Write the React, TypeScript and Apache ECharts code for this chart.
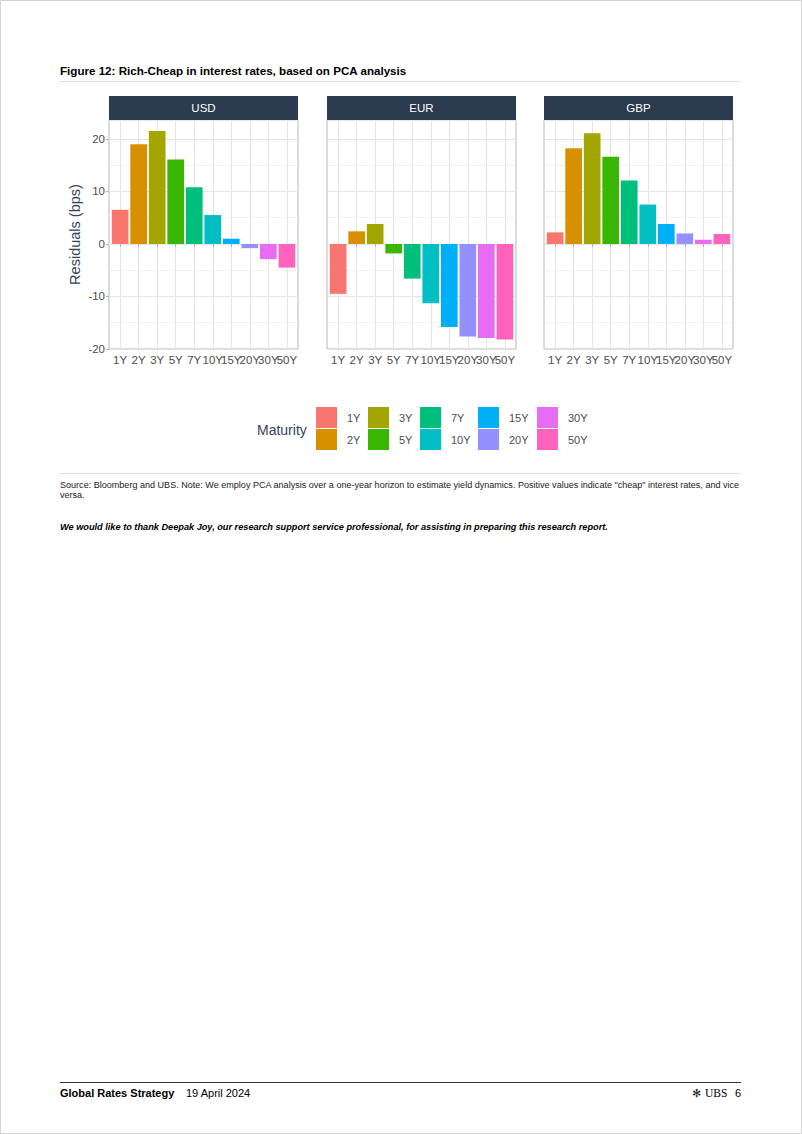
import React, { useEffect, useRef } from 'react';
import * as echarts from 'echarts';

const maturities = ['1Y', '2Y', '3Y', '5Y', '7Y', '10Y', '15Y', '20Y', '30Y', '50Y'];
const currencies = ['USD', 'EUR', 'GBP'];
const usdResiduals = [6.5, 19.0, 21.5, 16.1, 10.8, 5.5, 1.0, -0.8, -2.9, -4.5];
const eurResiduals = [-9.5, 2.4, 3.8, -1.8, -6.6, -11.3, -15.8, -17.6, -17.9, -18.2];
const gbpResiduals = [2.2, 18.2, 21.1, 16.6, 12.1, 7.5, 3.8, 2.0, 0.8, 1.9];
const residualsByCurrency = [usdResiduals, eurResiduals, gbpResiduals];
const maturityColors = ['#F8766D', '#D89000', '#A3A500', '#39B600', '#00BF7D', '#00BFC4', '#00B0F6', '#9590FF', '#E76BF3', '#FF62BC'];

const titleText = 'Figure 12: Rich-Cheap in interest rates, based on PCA analysis';
const sourceLine1 = 'Source: Bloomberg and UBS. Note: We employ PCA analysis over a one-year horizon to estimate yield dynamics. Positive values indicate "cheap" interest rates, and vice';
const sourceLine2 = 'versa.';
const thanksText = 'We would like to thank Deepak Joy, our research support service professional, for assisting in preparing this research report.';

const FONT = '"Liberation Sans", Arial, Helvetica, sans-serif';
const gridLefts = [109, 327, 544];
const gridTop = 120;
const gridWidth = 189;
const gridHeight = 229;
// ggplot-style discrete expansion (0.6 units each side instead of 0.5)
const inset = gridWidth * (0.1 / 10.2);
const legendLefts = [316, 368, 420, 478, 537];
const yMin = -20;
const yMax = 23.6;

export default function App() {
  const ref = useRef<HTMLDivElement>(null);
  useEffect(() => {
    document.body.style.margin = '0';
    const chart = echarts.init(ref.current as HTMLDivElement, null, { renderer: 'svg', width: 802, height: 1134 });

    const panelGrids = gridLefts.map((left) => ({
      left, top: gridTop, width: gridWidth, height: gridHeight,
      show: true, borderColor: '#b8b8b8', borderWidth: 1, backgroundColor: 'transparent',
    }));
    const barGrids = gridLefts.map((left) => ({
      left: left + inset, top: gridTop, width: gridWidth - 2 * inset, height: gridHeight, show: false,
    }));

    const panelXAxes = gridLefts.map((_, i) => ({
      type: 'value', gridIndex: i, show: false, min: 0, max: 1,
    }));
    const barXAxes = gridLefts.map((_, i) => ({
      type: 'category', gridIndex: 3 + i, data: maturities, boundaryGap: true,
      axisLine: { show: false },
      axisTick: { show: true, alignWithLabel: true, length: 3, lineStyle: { color: '#b3b3b3' } },
      axisLabel: { interval: 0, fontSize: 11.5, color: '#4d4d4d', margin: 5, fontFamily: FONT },
      splitLine: { show: true, alignWithLabel: true, interval: 0, lineStyle: { color: '#e4e4e4', width: 1 } },
    }));

    const panelYAxes = gridLefts.map((_, i) => ({
      type: 'value', gridIndex: i, min: yMin, max: yMax, interval: 10,
      axisLine: { show: false },
      axisTick: { show: i === 0, length: 3, lineStyle: { color: '#b3b3b3' } },
      axisLabel: {
        show: i === 0, fontSize: 11.5, color: '#4d4d4d', margin: 4, fontFamily: FONT, showMaxLabel: false,
        formatter: (v: number) => (v % 10 === 0 ? String(v) : ''),
      },
      splitLine: { show: true, lineStyle: { color: '#e4e4e4', width: 1 } },
      minorTick: { show: false, splitNumber: 2 },
      minorSplitLine: { show: true, lineStyle: { color: '#ececec', width: 0.7 } },
      name: i === 0 ? 'Residuals (bps)' : '',
      nameLocation: 'middle', nameGap: 27,
      nameTextStyle: { fontSize: 14.5, color: '#34435a', fontFamily: FONT },
    }));
    const barYAxes = gridLefts.map((_, i) => ({
      type: 'value', gridIndex: 3 + i, min: yMin, max: yMax, interval: 10, show: false,
      splitLine: { show: false },
    }));

    const series: any[] = [];
    residualsByCurrency.forEach((vals, p) => {
      maturities.forEach((m, k) => {
        series.push({
          type: 'bar', name: m, xAxisIndex: 3 + p, yAxisIndex: 3 + p, stack: 'panel' + p,
          barWidth: '90%',
          itemStyle: { color: maturityColors[k] },
          data: maturities.map((_, j) => (j === k ? vals[k] : null)),
        });
      });
    });

    const legends = legendLefts.map((left, c) => ({
      orient: 'vertical', left, top: 407, padding: 0, itemGap: 1,
      itemWidth: 21, itemHeight: 21, icon: 'rect',
      data: [maturities[2 * c], maturities[2 * c + 1]],
      textStyle: { fontSize: 11, color: '#4d4d4d', fontFamily: FONT, padding: [0, 0, 0, 5] },
    }));

    const graphics: any[] = [
      { type: 'rect', shape: { x: 0.5, y: 0.5, width: 801, height: 1133 }, style: { fill: 'none', stroke: '#d4d4d4', lineWidth: 1 } },
      { type: 'text', x: 60, y: 70, style: { text: titleText, fontSize: 11.6, fontWeight: 'bold', fontFamily: FONT, fill: '#000', textVerticalAlign: 'middle' } },
      { type: 'line', shape: { x1: 60, y1: 81.5, x2: 741, y2: 81.5 }, style: { stroke: '#dedede', lineWidth: 1 } },
      { type: 'line', shape: { x1: 60, y1: 473.5, x2: 741, y2: 473.5 }, style: { stroke: '#dedede', lineWidth: 1 } },
      { type: 'text', x: 60, y: 485, style: { text: sourceLine1, fontSize: 9.05, fontFamily: FONT, fill: '#222', textVerticalAlign: 'middle' } },
      { type: 'text', x: 60, y: 495, style: { text: sourceLine2, fontSize: 9.05, fontFamily: FONT, fill: '#222', textVerticalAlign: 'middle' } },
      { type: 'text', x: 60, y: 527, style: { text: thanksText, fontSize: 9.2, fontWeight: 'bold', fontStyle: 'italic', fontFamily: FONT, fill: '#000', textVerticalAlign: 'middle' } },
      { type: 'text', x: 257, y: 430, style: { text: 'Maturity', fontSize: 14, fontFamily: FONT, fill: '#34435a', textVerticalAlign: 'middle' } },
      { type: 'line', shape: { x1: 60, y1: 1082.5, x2: 741, y2: 1082.5 }, style: { stroke: '#333', lineWidth: 1 } },
      { type: 'text', x: 60, y: 1093, style: { text: 'Global Rates Strategy', fontSize: 11, fontWeight: 'bold', fontFamily: FONT, fill: '#000', textVerticalAlign: 'middle' } },
      { type: 'text', x: 186, y: 1093, style: { text: '19 April 2024', fontSize: 11, fontFamily: FONT, fill: '#000', textVerticalAlign: 'middle' } },
      { type: 'text', x: 705, y: 1093, style: { text: 'UBS', fontSize: 11.5, fontFamily: '"Liberation Serif", "Times New Roman", serif', fill: '#000', textVerticalAlign: 'middle' } },
      { type: 'text', x: 735, y: 1093, style: { text: '6', fontSize: 11, fontFamily: FONT, fill: '#000', textVerticalAlign: 'middle' } },
      { type: 'text', x: 692, y: 1093, style: { text: '✻', fontSize: 11, fontFamily: '"DejaVu Sans", sans-serif', fill: '#222', textVerticalAlign: 'middle' } },
    ];

    currencies.forEach((cur, i) => {
      graphics.push({ type: 'rect', shape: { x: gridLefts[i], y: 96, width: gridWidth, height: 24 }, style: { fill: '#2b3a4f' } });
      graphics.push({ type: 'text', x: gridLefts[i] + gridWidth / 2, y: 108, style: { text: cur, fontSize: 11.5, fontFamily: FONT, fill: '#ffffff', textAlign: 'center', textVerticalAlign: 'middle' } });
    });

    chart.setOption({
      animation: false,
      backgroundColor: '#ffffff',
      textStyle: { fontFamily: FONT },
      grid: [...panelGrids, ...barGrids],
      xAxis: [...panelXAxes, ...barXAxes],
      yAxis: [...panelYAxes, ...barYAxes],
      legend: legends,
      series,
      graphic: graphics,
    });
    return () => chart.dispose();
  }, []);
  return <div ref={ref} style={{ width: 802, height: 1134 }} />;
}
